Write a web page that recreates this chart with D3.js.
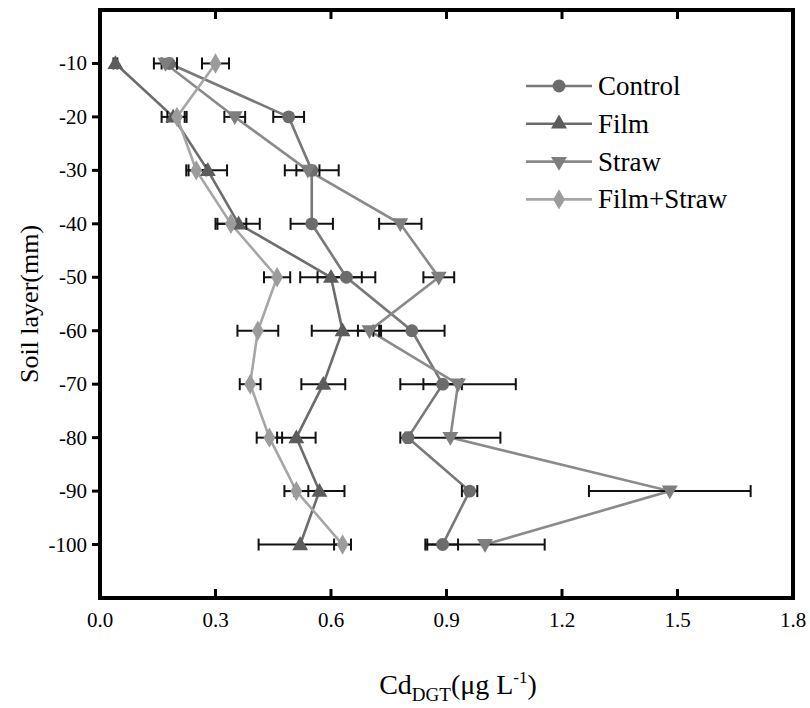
<!DOCTYPE html>
<html>
<head>
<meta charset="utf-8">
<script src="https://cdn.jsdelivr.net/npm/d3@7"></script>
<style>
  body { margin: 0; background: #fff; }
  svg text { font-family: "Liberation Serif", "DejaVu Serif", serif; }
</style>
</head>
<body>
<div id="chart"></div>
<script>
const depths = [-10, -20, -30, -40, -50, -60, -70, -80, -90, -100];
const control = [0.18, 0.49, 0.55, 0.55, 0.64, 0.81, 0.89, 0.80, 0.96, 0.89];
const controlErr = [0.02, 0.04, 0.07, 0.055, 0.075, 0.085, 0.05, 0.006, 0.02, 0.04];
const film = [0.04, 0.19, 0.28, 0.36, 0.60, 0.63, 0.58, 0.51, 0.57, 0.52];
const filmErr = [0.005, 0.03, 0.05, 0.055, 0.08, 0.08, 0.057, 0.05, 0.065, 0.108];
const straw = [0.17, 0.35, 0.54, 0.78, 0.88, 0.70, 0.93, 0.91, 1.48, 1.00];
const strawErr = [0.03, 0.027, 0.03, 0.055, 0.04, 0.03, 0.15, 0.13, 0.21, 0.155];
const filmStraw = [0.30, 0.20, 0.25, 0.34, 0.46, 0.41, 0.39, 0.44, 0.51, 0.63];
const filmStrawErr = [0.035, 0.025, 0.026, 0.04, 0.034, 0.053, 0.027, 0.033, 0.031, 0.022];
const xTicks = [0, 0.3, 0.6, 0.9, 1.2, 1.5, 1.8];

const seriesNames = ["Control", "Film", "Straw", "Film+Straw"];
const seriesValues = [control, film, straw, filmStraw];
const seriesErrors = [controlErr, filmErr, strawErr, filmStrawErr];
const symbols = [d3.symbolCircle, d3.symbolTriangle, d3.symbolTriangle, d3.symbolDiamond];
const symbolSizes = [130, 110, 110, 120];
const symbolRotate = [0, 0, 180, 0];
const markerColors = ["#6c6c6c", "#5c5c5c", "#7e7e7e", "#9c9c9c"];
const lineColors = ["#787878", "#6c6c6c", "#8a8a8a", "#a6a6a6"];

const width = 810, height = 708;
const margin = { left: 100, right: 17, top: 10, bottom: 110 };

const svg = d3.select("#chart").append("svg")
    .attr("width", width)
    .attr("height", height);

const x = d3.scaleLinear().domain([0, 1.8]).range([margin.left, width - margin.right]);
const y = d3.scaleLinear().domain([0, -110]).range([margin.top, height - margin.bottom]);

const plot = svg.append("g");

// lines
seriesValues.forEach((vals, i) => {
    const line = d3.line().x(d => x(d[0])).y(d => y(d[1]));
    plot.append("path")
        .datum(vals.map((v, k) => [v, depths[k]]))
        .attr("d", line)
        .attr("fill", "none")
        .attr("stroke", lineColors[i])
        .attr("stroke-width", 2.6);
});

// error bars
seriesValues.forEach((vals, i) => {
    const g = plot.append("g").attr("stroke", "#111").attr("stroke-width", 2);
    vals.forEach((v, k) => {
        const e = seriesErrors[i][k];
        const yy = y(depths[k]);
        g.append("line").attr("x1", x(v - e)).attr("x2", x(v + e)).attr("y1", yy).attr("y2", yy);
        [v - e, v + e].forEach(c => {
            g.append("line").attr("x1", x(c)).attr("x2", x(c)).attr("y1", yy - 6).attr("y2", yy + 6);
        });
    });
});

// markers
seriesValues.forEach((vals, i) => {
    const sym = d3.symbol().type(symbols[i]).size(symbolSizes[i]);
    plot.selectAll(null)
        .data(vals.map((v, k) => [v, depths[k]]))
        .enter()
        .append("path")
        .attr("d", sym)
        .attr("transform", d => `translate(${x(d[0])},${y(d[1]) + (i === 2 ? -1 : i === 1 ? 1 : 0)}) rotate(${symbolRotate[i]})`)
        .attr("fill", markerColors[i]);
});

// frame
svg.append("rect")
    .attr("x", margin.left)
    .attr("y", margin.top)
    .attr("width", width - margin.left - margin.right)
    .attr("height", height - margin.top - margin.bottom)
    .attr("fill", "none")
    .attr("stroke", "#000")
    .attr("stroke-width", 4);

// x ticks (inside, bottom and top)
const xb = height - margin.bottom;
xTicks.forEach(t => {
    if (t > 0 && t < 1.8) {
        svg.append("line").attr("x1", x(t)).attr("x2", x(t)).attr("y1", xb).attr("y2", xb - 9)
            .attr("stroke", "#000").attr("stroke-width", 3);
        svg.append("line").attr("x1", x(t)).attr("x2", x(t)).attr("y1", margin.top).attr("y2", margin.top + 9)
            .attr("stroke", "#000").attr("stroke-width", 3);
    }
    svg.append("text")
        .attr("x", x(t))
        .attr("y", xb + 29)
        .attr("text-anchor", "middle")
        .attr("font-size", 21)
        .text(t.toFixed(1));
});

// y ticks (outside)
depths.forEach(d => {
    svg.append("line").attr("x1", margin.left).attr("x2", margin.left - 8).attr("y1", y(d)).attr("y2", y(d))
        .attr("stroke", "#000").attr("stroke-width", 3);
    svg.append("text")
        .attr("x", margin.left - 13)
        .attr("y", y(d) + 7)
        .attr("text-anchor", "end")
        .attr("font-size", 21)
        .text(d);
});

// axis titles
const xt = svg.append("text")
    .attr("x", 458)
    .attr("y", 694)
    .attr("text-anchor", "middle")
    .attr("font-size", 28);
xt.append("tspan").text("Cd");
xt.append("tspan").attr("font-size", 19).attr("dy", 7).text("DGT");
xt.append("tspan").attr("dy", -7).text("(μg L");
xt.append("tspan").attr("font-size", 17).attr("dy", -11).text("-1");
xt.append("tspan").attr("dy", 11).text(")");

svg.append("text")
    .attr("transform", `translate(38,${(margin.top + height - margin.bottom) / 2}) rotate(-90)`)
    .attr("text-anchor", "middle")
    .attr("font-size", 26)
    .text("Soil layer(mm)");

// legend
const legend = svg.append("g").attr("transform", "translate(526,86)");
seriesNames.forEach((name, i) => {
    const g = legend.append("g").attr("transform", `translate(0,${i * 37.8})`);
    g.append("line").attr("x1", 0).attr("x2", 66).attr("y1", 0).attr("y2", 0)
        .attr("stroke", lineColors[i]).attr("stroke-width", 2.6);
    g.append("path")
        .attr("d", d3.symbol().type(symbols[i]).size(symbolSizes[i])())
        .attr("transform", `translate(33,0) rotate(${symbolRotate[i]})`)
        .attr("fill", markerColors[i]);
    g.append("text")
        .attr("x", 72)
        .attr("y", 9)
        .attr("font-size", 27)
        .text(name);
});
</script>
</body>
</html>
